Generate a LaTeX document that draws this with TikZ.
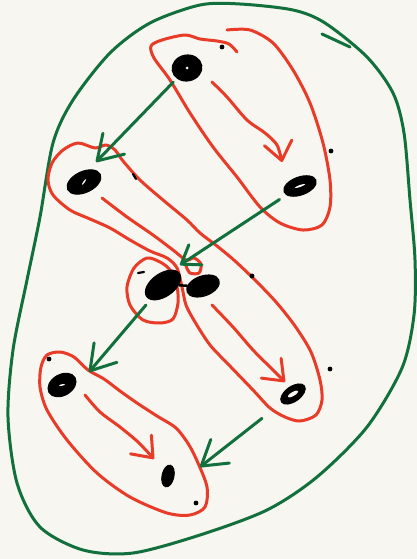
\documentclass[tikz,border=0pt]{standalone}
\usetikzlibrary{arrows.meta,shapes.geometric}
\definecolor{paper}{RGB}{248,246,241}
\definecolor{sccred}{RGB}{232,60,40}
\definecolor{daggreen}{RGB}{18,112,60}
\tikzset{
  vtx/.style={ellipse,fill=black,draw=black,line width=1pt,inner sep=0pt},
  hole/.style={ellipse,fill=paper,inner sep=0pt},
  scc/.style={sccred,line width=3pt,line cap=round,line join=round},
  sccarrow/.style={scc,-{Straight Barb[round,length=18pt,width=28pt]}},
  dag/.style={daggreen,line width=3pt,line cap=round,line join=round},
  dagedge/.style={dag,-{Straight Barb[round,length=24pt,width=30pt]}},
}

\begin{document}
\begin{tikzpicture}[x=1pt,y=-1pt]
  \fill[paper] (0,0) rectangle (417,559);
  \useasboundingbox (0,0) rectangle (417,559);
  % the whole graph
  \draw[dag] plot[smooth cycle] coordinates {(200,5) (240,4) (293,10) (325,23)
    (367,57) (393,93) (404,133) (410,200) (415,260) (414,315) (402,368) (367,427)
    (317,477) (267,510) (200,535) (133,553) (83,550) (40,527) (17,483) (8,417)
    (13,350) (27,280) (40,217) (53,143) (73,100) (110,53) (150,23)};
  \draw[dag] (322,34) -- (350,47);
  % strongly connected pieces
  \draw[scc] plot[smooth] coordinates {(227,30) (250,30) (273,43) (293,70) (310,103)
    (323,143) (330,180) (330,207) (322,225) (303,230) (280,223) (260,207) (237,177)
    (213,147) (190,113) (170,80) (154,58) (151,46) (162,40) (185,35) (200,39)
    (217,41) (229,44) (237,52)};
  \draw[scc] plot[smooth cycle] coordinates {(95,148) (78,143) (63,150) (52,163)
    (48,180) (53,195) (70,210) (90,219) (110,228) (130,240) (150,251) (167,258)
    (177,268) (182,287) (186,305) (195,322) (210,345) (228,364) (253,390) (270,408)
    (285,417) (300,421) (316,415) (322,400) (320,380) (311,352) (295,326) (276,302)
    (255,280) (235,261) (217,246) (200,233) (187,220) (163,200) (140,180) (123,161)
    (115,150) (106,145)};
  \draw[scc] plot[smooth cycle] coordinates {(147,258) (134,268) (127,287) (130,305)
    (143,320) (160,323) (173,319) (178,303) (177,287) (170,270) (160,262)};
  \draw[scc] plot[smooth cycle] coordinates {(60,352) (47,355) (41,367) (40,387)
    (47,410) (67,440) (97,473) (130,497) (167,513) (190,515) (205,507) (207,487)
    (198,463) (189,445) (176,428) (157,416) (137,403) (120,391) (104,379) (88,370)
    (74,357)};
  % vertices
  \node[vtx,minimum width=30pt,minimum height=26pt,rotate=10] (a1) at (187,68) {};
  \node[vtx,minimum width=34pt,minimum height=18pt,rotate=20] (a2) at (300,186) {};
  \node[vtx,minimum width=36pt,minimum height=21pt,rotate=25] (b1) at (84,182) {};
  \node[vtx,minimum width=40pt,minimum height=23pt,rotate=35] (s) at (163,285) {};
  \node[vtx,minimum width=34pt,minimum height=20pt,rotate=20] (c1) at (203,286) {};
  \node[vtx,minimum width=28pt,minimum height=15pt,rotate=35] (c2) at (293,394) {};
  \node[vtx,minimum width=30pt,minimum height=21pt,rotate=30] (d1) at (62,385) {};
  \node[vtx,minimum width=12pt,minimum height=22pt,rotate=-12] (d2) at (168,476) {};
  \node[hole,minimum width=3pt,minimum height=3pt] at (a1) {};
  \node[hole,minimum width=11pt,minimum height=2pt,rotate=20] at (a2) {};
  \node[hole,minimum width=12pt,minimum height=4pt,rotate=30] at (c2) {};
  \node[hole,minimum width=7pt,minimum height=1.5pt,rotate=55] at (b1) {};
  \node[hole,minimum width=6pt,minimum height=1.5pt,rotate=10] at (d1) {};
  \draw[line width=2.5pt] (s) -- (c1);
  % stray marks
  \foreach \p in {(222,47),(331,151),(252,276),(330,369),(49,359),(196,503)}
    \fill \p circle (2.4);
  \draw[line width=2.2pt,line cap=round] (133,174) -- (136,179);
  \draw[line width=2.2pt,line cap=round] (138,273) -- (144,272);
  % edges inside the pieces
  \draw[sccarrow] plot[smooth] coordinates {(212,82) (227,97) (247,120) (265,133)
    (277,145) (282,162)};
  \draw[scc] plot[smooth] coordinates {(102,198) (127,217) (153,235) (173,250)
    (186,260) (194,258) (201,264) (199,273) (190,273) (186,266)};
  \draw[sccarrow] plot[smooth] coordinates {(212,305) (233,327) (253,350) (273,370)
    (285,382)};
  \draw[sccarrow] plot[smooth] coordinates {(85,395) (100,412) (120,427) (138,442)
    (154,459)};
  % edges between the pieces
  \coordinate (tb) at (96,162);
  \coordinate (tc) at (180,265);
  \coordinate (td) at (89,372);
  \coordinate (te) at (200,467);
  \draw[dagedge,shorten <=5pt] (a1) -- (tb);
  \draw[dag,shorten <=8pt,-{Straight Barb[round,length=17pt,width=24pt]}] (a2) -- (tc);
  \draw[dagedge,shorten <=7pt] (s) -- (td);
  \draw[dagedge,shorten <=25pt] (c2) -- (te);
\end{tikzpicture}
\end{document}
